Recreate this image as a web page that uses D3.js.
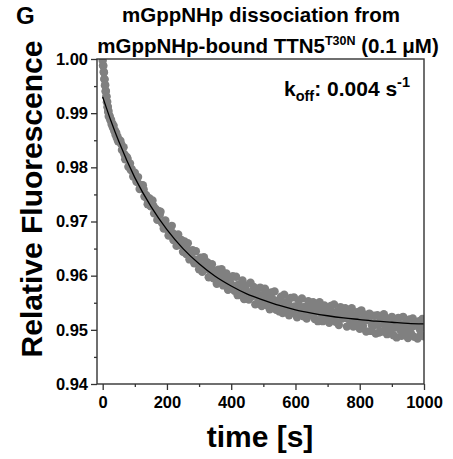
<!DOCTYPE html>
<html>
<head>
<meta charset="utf-8">
<script src="https://cdn.jsdelivr.net/npm/d3@7"></script>
<style>
  body { margin: 0; background: #fff; }
  text { font-family: "Liberation Sans", Arial, sans-serif; font-weight: bold; }
</style>
</head>
<body>
<div id="chart"></div>
<script>
const timesA = d3.range(0, 21, 1);      // 0..20 s
const valuesA = [0.9997, 0.9988, 0.9987, 0.9976, 0.9975, 0.9963, 0.9962, 0.9951, 0.9952, 0.9940,
  0.9941, 0.9930, 0.9931, 0.9920, 0.9921, 0.9911, 0.9912, 0.9902, 0.9904, 0.9894, 0.9896];

const timesB = d3.range(22, 51, 2);     // 22..50 s
const valuesB = [0.9894, 0.9887, 0.9888, 0.9879, 0.9881, 0.9873, 0.9877, 0.9867, 0.9868, 0.9860,
  0.9864, 0.9854, 0.9857, 0.9848, 0.9851];

const timesC = d3.range(55, 1001, 5);   // 55..1000 s
const valuesC = [
  0.9849, 0.9832, 0.9837, 0.9815, 0.9819, 0.9801, 0.9807, 0.9797, 0.9783, 0.9790,
  0.9774, 0.9782, 0.9760, 0.9767, 0.9767, 0.9746, 0.9749, 0.9732, 0.9743, 0.9728,
  0.9739, 0.9715, 0.9723, 0.9703, 0.9719, 0.9718, 0.9697, 0.9687, 0.9702, 0.9686,
  0.9674, 0.9689, 0.9692, 0.9666, 0.9674, 0.9655, 0.9676, 0.9657, 0.9666, 0.9644,
  0.9663, 0.9640, 0.9660, 0.9630, 0.9645, 0.9647, 0.9623, 0.9645, 0.9623, 0.9612,
  0.9633, 0.9607, 0.9634, 0.9612, 0.9625, 0.9597, 0.9614, 0.9621, 0.9595, 0.9609,
  0.9585, 0.9611, 0.9591, 0.9612, 0.9582, 0.9595, 0.9604, 0.9574, 0.9595, 0.9576,
  0.9599, 0.9572, 0.9598, 0.9564, 0.9584, 0.9573, 0.9591, 0.9557, 0.9582, 0.9558,
  0.9556, 0.9587, 0.9562, 0.9579, 0.9547, 0.9573, 0.9553, 0.9578, 0.9544, 0.9565,
  0.9576, 0.9546, 0.9565, 0.9538, 0.9569, 0.9547, 0.9571, 0.9537, 0.9554, 0.9534,
  0.9561, 0.9531, 0.9565, 0.9538, 0.9552, 0.9527, 0.9559, 0.9532, 0.9560, 0.9537,
  0.9523, 0.9554, 0.9534, 0.9558, 0.9525, 0.9542, 0.9521, 0.9553, 0.9528, 0.9547,
  0.9551, 0.9520, 0.9543, 0.9516, 0.9551, 0.9529, 0.9516, 0.9545, 0.9520, 0.9538,
  0.9513, 0.9544, 0.9521, 0.9547, 0.9515, 0.9534, 0.9509, 0.9542, 0.9521, 0.9538,
  0.9540, 0.9506, 0.9531, 0.9511, 0.9540, 0.9506, 0.9525, 0.9511, 0.9533, 0.9502,
  0.9536, 0.9507, 0.9528, 0.9497, 0.9520, 0.9530, 0.9498, 0.9506, 0.9526, 0.9493,
  0.9527, 0.9495, 0.9518, 0.9497, 0.9529, 0.9502, 0.9492, 0.9520, 0.9497, 0.9524,
  0.9490, 0.9516, 0.9486, 0.9522, 0.9501, 0.9489, 0.9524, 0.9495, 0.9512, 0.9485,
  0.9519, 0.9493, 0.9521, 0.9487, 0.9509, 0.9484, 0.9516, 0.9490, 0.9520, 0.9488
];

// in-between samples (57.5..997.5 s), close to the middle of the band
const timesD = d3.range(57.5, 1000, 10);
const valuesD = [
  0.9843, 0.9824, 0.9816, 0.9795, 0.9787, 0.9773, 0.9767, 0.9759, 0.9743, 0.9730,
  0.9729, 0.9715, 0.9712, 0.9696, 0.9692, 0.9681, 0.9679, 0.9674, 0.9659, 0.9659,
  0.9647, 0.9646, 0.9642, 0.9629, 0.9628, 0.9619, 0.9620, 0.9617, 0.9605, 0.9605,
  0.9597, 0.9599, 0.9597, 0.9585, 0.9587, 0.9580, 0.9582, 0.9581, 0.9570, 0.9572,
  0.9566, 0.9569, 0.9568, 0.9558, 0.9561, 0.9555, 0.9558, 0.9558, 0.9548, 0.9551,
  0.9545, 0.9549, 0.9549, 0.9540, 0.9543, 0.9538, 0.9542, 0.9542, 0.9533, 0.9537,
  0.9532, 0.9536, 0.9537, 0.9528, 0.9532, 0.9527, 0.9531, 0.9532, 0.9523, 0.9527,
  0.9522, 0.9525, 0.9526, 0.9517, 0.9520, 0.9514, 0.9518, 0.9518, 0.9509, 0.9512,
  0.9509, 0.9513, 0.9514, 0.9505, 0.9509, 0.9504, 0.9509, 0.9510, 0.9502, 0.9507,
  0.9502, 0.9507, 0.9509, 0.9500, 0.9505
];

// fitted single exponential (black line), read at these times
const fitTimes = [0, 25, 50, 100, 150, 200, 250, 300, 350, 400, 450, 500, 550, 600, 650, 700, 750, 800, 850, 900, 950, 1000];
const fitValues = [0.9930, 0.9887, 0.9848, 0.9781, 0.9728, 0.9685, 0.9650, 0.9622, 0.9599, 0.9581, 0.9566,
  0.9555, 0.9545, 0.9537, 0.9531, 0.9526, 0.9522, 0.9519, 0.9516, 0.9514, 0.9512, 0.9511];

const yTicks = [0.94, 0.95, 0.96, 0.97, 0.98, 0.99, 1.00];
const yMinor = [0.945, 0.955, 0.965, 0.975, 0.985, 0.995];
const xTicks = [0, 200, 400, 600, 800, 1000];
const xMinor = [100, 300, 500, 700, 900];

const W = 453, H = 459;
const plot = { left: 97, right: 424, top: 59, bottom: 384 };

const svg = d3.select("#chart").append("svg")
  .attr("width", W).attr("height", H);

const x = d3.scaleLinear().domain([-17.7, 1000]).range([plot.left, plot.right]);
const y = d3.scaleLinear().domain([0.94, 1.00]).range([plot.bottom, plot.top]);

const points = [];
timesA.forEach((t, i) => points.push({ t: t, v: valuesA[i] }));
timesB.forEach((t, i) => points.push({ t: t, v: valuesB[i] }));
timesC.forEach((t, i) => points.push({ t: t, v: valuesC[i] }));
timesD.forEach((t, i) => points.push({ t: t, v: valuesD[i] }));

svg.append("clipPath").attr("id", "clip")
  .append("rect")
  .attr("x", plot.left).attr("y", plot.top)
  .attr("width", plot.right - plot.left).attr("height", plot.bottom - plot.top);

const inner = svg.append("g").attr("clip-path", "url(#clip)");

// data dots
inner.selectAll(".dot")
  .data(points)
  .enter().append("circle")
  .attr("class", "dot")
  .attr("cx", d => x(d.t))
  .attr("cy", d => y(d.v))
  .attr("r", 4.2)
  .attr("fill", "#808080");

// fit line
const fitLine = d3.line()
  .x((d, i) => x(fitTimes[i]))
  .y(d => y(d))
  .curve(d3.curveMonotoneX);

inner.append("path")
  .datum(fitValues)
  .attr("d", fitLine)
  .attr("fill", "none")
  .attr("stroke", "#000")
  .attr("stroke-width", 1.3);

// axes
const yAxis = svg.append("g")
  .attr("transform", `translate(${plot.left},0)`)
  .call(d3.axisLeft(y).tickValues(yTicks).tickFormat(d3.format(".2f")).tickSize(6).tickPadding(3));
const yAxisMinor = svg.append("g")
  .attr("transform", `translate(${plot.left},0)`)
  .call(d3.axisLeft(y).tickValues(yMinor).tickFormat("").tickSize(3));

const xAxis = svg.append("g")
  .attr("transform", `translate(0,${plot.bottom})`)
  .call(d3.axisBottom(x).tickValues(xTicks).tickFormat(d3.format("d")).tickSize(6).tickPadding(6));
const xAxisMinor = svg.append("g")
  .attr("transform", `translate(0,${plot.bottom})`)
  .call(d3.axisBottom(x).tickValues(xMinor).tickFormat("").tickSize(3));

[yAxis, yAxisMinor, xAxis, xAxisMinor].forEach(g => {
  g.select(".domain").remove();
  g.selectAll("line").attr("stroke", "#333").attr("stroke-width", 1.3);
  g.selectAll("text").attr("fill", "#000").style("font-size", "16.5px");
});

// frame
svg.append("rect")
  .attr("x", plot.left).attr("y", plot.top)
  .attr("width", plot.right - plot.left).attr("height", plot.bottom - plot.top)
  .attr("fill", "none")
  .attr("stroke", "#333")
  .attr("stroke-width", 1.4);

// axis titles
svg.append("text")
  .attr("x", 260).attr("y", 447)
  .attr("text-anchor", "middle")
  .style("font-size", "30px")
  .text("time [s]");

svg.append("text")
  .attr("transform", "translate(42,199) rotate(-90)")
  .attr("text-anchor", "middle")
  .style("font-size", "30px")
  .text("Relative Fluorescence");

// panel letter and title
svg.append("text")
  .attr("x", 16).attr("y", 24)
  .style("font-size", "24px")
  .text("G");

svg.append("text")
  .attr("x", 261).attr("y", 22)
  .attr("text-anchor", "middle")
  .style("font-size", "20.5px")
  .text("mGppNHp dissociation from");

const t2 = svg.append("text")
  .attr("x", 268).attr("y", 53)
  .attr("text-anchor", "middle")
  .style("font-size", "20.5px");
t2.append("tspan").text("mGppNHp-bound TTN5");
t2.append("tspan").attr("dy", -8).style("font-size", "12.5px").text("T30N");
t2.append("tspan").attr("dy", 8).text(" (0.1 \u03BCM)");

// rate constant label
const k = svg.append("text")
  .attr("x", 410).attr("y", 96)
  .attr("text-anchor", "end")
  .style("font-size", "21px");
k.append("tspan").text("k");
k.append("tspan").attr("dy", 5).style("font-size", "14.5px").text("off");
k.append("tspan").attr("dy", -5).text(": 0.004 s");
k.append("tspan").attr("dy", -9).style("font-size", "14.5px").text("-1");
</script>
</body>
</html>
